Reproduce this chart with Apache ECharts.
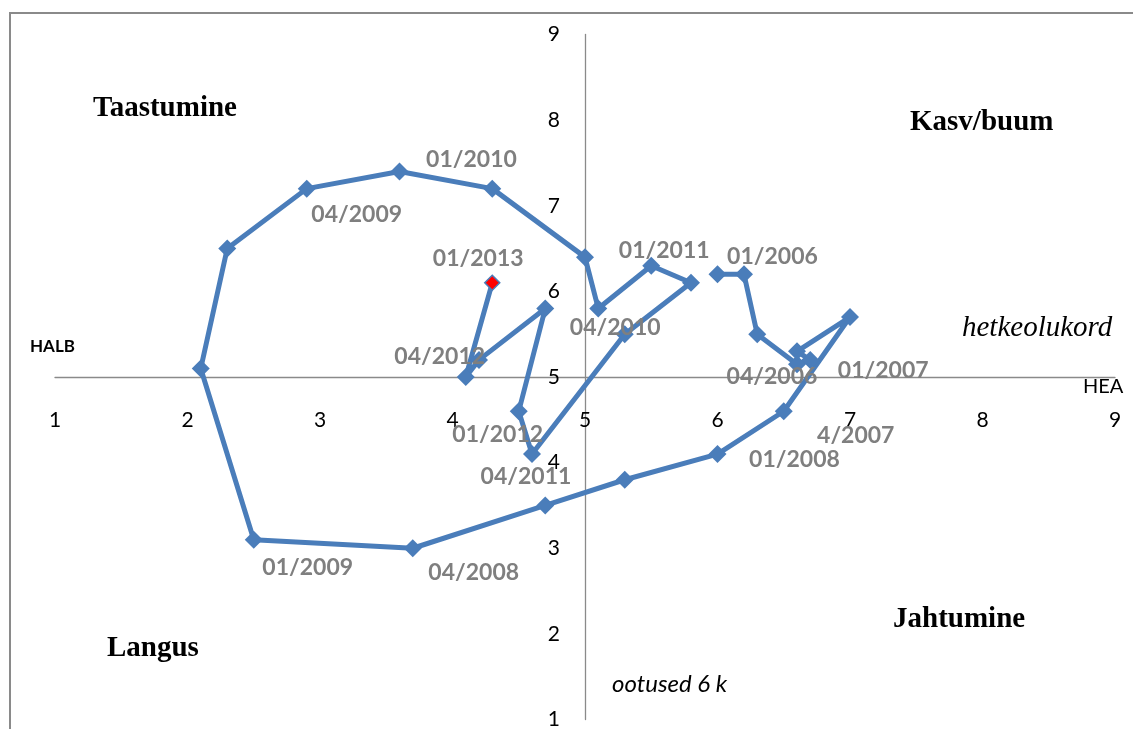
<!DOCTYPE html>
<html><head><meta charset="utf-8">
<script src="https://cdn.jsdelivr.net/npm/echarts@6/dist/echarts.min.js"></script>
<style>html,body{margin:0;padding:0;background:#fff}#c{width:1133px;height:729px}</style>
</head><body><div id="c"></div>
<script>
// Quarterly points: x = current situation (hetkeolukord), y = expectations 6 months ahead (ootused 6 k)
const currentState = [6.0,6.2,6.3,6.6,6.7,6.6,7.0,6.5,6.0, 5.3,4.7,3.7,2.5,2.1,2.3,2.9,3.6,4.3, 5.0,5.1,5.5,5.8,5.3,4.6,4.5,4.7,4.2,4.1,4.3];
const expectations = [6.2,6.2,5.5,5.15,5.2,5.3,5.7,4.6,4.1, 3.8,3.5,3.0,3.1,5.1,6.5,7.2,7.4,7.2, 6.4,5.8,6.3,6.1,5.5,4.1,4.6,5.8,5.2,5.0,6.1];
const pointLabels = ['01/2006','','','04/2006','01/2007','','','4/2007','01/2008','','','04/2008','01/2009','','','04/2009','01/2010','','','04/2010','01/2011','','','04/2011','01/2012','','','04/2012','01/2013'];
const xTicks = [1,2,3,4,5,6,7,8,9];
const yTicks = [1,2,3,4,5,6,7,8,9];
const quadrantNames = ['Taastumine','Kasv/buum','Langus','Jahtumine'];
const axisNames = {xTitle:'hetkeolukord', yTitle:'ootused 6 k', good:'HEA', bad:'HALB'};

// label offsets (style only)
const labelOffsets = {
  '01/2006':[55,-18],'04/2006':[-25,12],'01/2007':[73,11],'4/2007':[72,24],'01/2008':[77,6],
  '04/2008':[61,24],'01/2009':[54,28],'04/2009':[50,26],'01/2010':[72,-12],'04/2010':[17,19],
  '01/2011':[13,-15],'04/2011':[-6,23],'01/2012':[-21,23],'04/2012':[-26,-20],'01/2013':[-14,-24]
};

const data = currentState.map((x,i)=>{
  const lab = pointLabels[i];
  const d = {value:[x, expectations[i]]};
  if (lab) {
    d.label = {show:true, formatter:lab, position:'inside', align:'center', verticalAlign:'middle', offset:labelOffsets[lab]||[0,0]};
  }
  if (i === currentState.length-1) {
    d.itemStyle = {color:'#ff0000', borderColor:'#4a7dba', borderWidth:1.5};
    d.symbolSize = 15;
  }
  return d;
});

const chart = echarts.init(document.getElementById('c'), null, {renderer:'canvas'});
const axisCommon = {
  type:'value', min:xTicks[0], max:xTicks[xTicks.length-1], interval:1,
  axisLine:{show:true, onZero:false, lineStyle:{color:'#8a8a8a', width:1.3}},
  axisTick:{show:false}, splitLine:{show:false},
  axisLabel:{color:'#000', fontFamily:'Lato', fontSize:21}
};
const serif = "'Liberation Serif','Times New Roman',serif";
function txt(x,y,text,font,align){
  return {type:'text', x:x, y:y, z:10, style:{text:text, font:font, fill:'#000', align:align||'left', verticalAlign:'middle'}};
}
chart.setOption({
  animation:false,
  grid:{left:55, right:18, top:34.5, bottom:9.5, outerBoundsMode:'none', containLabel:false},
  xAxis:Object.assign({}, axisCommon, {position:'bottom', axisLabel:Object.assign({}, axisCommon.axisLabel, {margin:33})}),
  yAxis:Object.assign({}, axisCommon, {min:yTicks[0], max:yTicks[yTicks.length-1], position:'left', axisLabel:Object.assign({}, axisCommon.axisLabel, {margin:25})}),
  graphic:[
    {type:'rect', shape:{x:10,y:13,width:1300,height:900}, style:{fill:'none', stroke:'#8a8a8a', lineWidth:2}, z:0},
    txt(93,109,quadrantNames[0],'bold 29px '+serif),
    txt(910,123,quadrantNames[1],'bold 29px '+serif),
    txt(107,649,quadrantNames[2],'bold 29px '+serif),
    txt(893,620,quadrantNames[3],'bold 29px '+serif),
    txt(962,328,axisNames.xTitle,'italic 29px '+serif),
    txt(1083,387,axisNames.good,'20px Lato'),
    txt(30,347,axisNames.bad,'bold 17px Lato'),
    txt(612,684,axisNames.yTitle,'italic 24px Lato')
  ],
  series:[{
    type:'line', data:data, symbol:'diamond', symbolSize:18,
    lineStyle:{color:'#4a7dba', width:5},
    itemStyle:{color:'#4a7dba'},
    label:{show:false, color:'#7f7f7f', fontFamily:'Lato', fontWeight:'bold', fontSize:23},
    z:5
  }]
});
const p = chart.convertToPixel({gridIndex:0},[5,5]);
const rect = chart.getModel().getComponent('grid',0).coordinateSystem.getRect();
chart.setOption({
  xAxis:{offset: p[1] - (rect.y + rect.height)},
  yAxis:{offset: rect.x - p[0]}
});
</script></body></html>
